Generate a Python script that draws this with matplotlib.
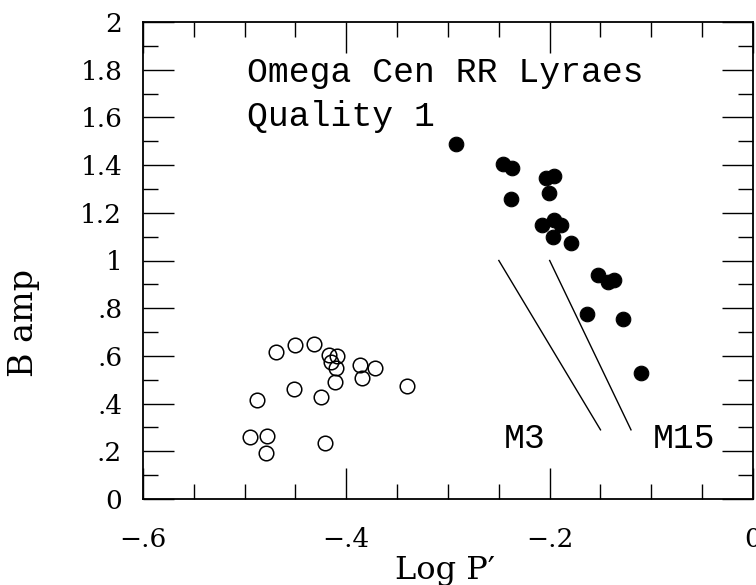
import numpy as np
import matplotlib
matplotlib.use('Agg')
import matplotlib.pyplot as plt
from matplotlib.ticker import MultipleLocator

#%% data

# quality 1 RR Lyraes with large amplitude (filled)
logp_filled = [-0.292, -0.246, -0.237, -0.238, -0.204, -0.196, -0.201, -0.208, -0.196,
               -0.189, -0.197, -0.179, -0.152, -0.143, -0.137, -0.163, -0.128, -0.110]
bamp_filled = [1.488, 1.403, 1.387, 1.258, 1.345, 1.354, 1.284, 1.149, 1.170,
               1.149, 1.100, 1.072, 0.939, 0.911, 0.918, 0.774, 0.753, 0.530]

# open circles
logp_open = [-0.469, -0.450, -0.432, -0.417, -0.409, -0.415, -0.410, -0.411, -0.387,
             -0.372, -0.385, -0.340, -0.451, -0.425, -0.488, -0.495, -0.478, -0.479, -0.421]
bamp_open = [0.618, 0.646, 0.650, 0.604, 0.598, 0.576, 0.548, 0.492, 0.562,
             0.551, 0.506, 0.474, 0.460, 0.429, 0.415, 0.261, 0.264, 0.191, 0.236]

# reference relations
m3_x = [-0.250, -0.150]
m3_y = [1.00, 0.29]
m15_x = [-0.200, -0.120]
m15_y = [1.00, 0.29]

xticks = [-0.6, -0.4, -0.2, 0.0]
xticklabels = ['\u2212.6', '\u2212.4', '\u2212.2', '0']
yticks = [0, 0.2, 0.4, 0.6, 0.8, 1.0, 1.2, 1.4, 1.6, 1.8, 2.0]
yticklabels = ['0', '.2', '.4', '.6', '.8', '1', '1.2', '1.4', '1.6', '1.8', '2']

#%% plot

fig = plt.figure(figsize=(7.56, 5.85), dpi=100)
ax = fig.add_axes([143/756, 1 - 499/585, (753-143)/756, (499-22)/585])

ax.plot(logp_filled, bamp_filled, 'o', color='black', markersize=10.5, markeredgewidth=0.8)
ax.plot(logp_open, bamp_open, 'o', mfc='none', mec='black', markersize=10.5, markeredgewidth=1.1)
ax.plot(m3_x, m3_y, color='black', lw=1.0)
ax.plot(m15_x, m15_y, color='black', lw=1.0)

ax.set_xlim(-0.6, 0.0)
ax.set_ylim(0, 2)

ax.set_xticks(xticks)
ax.set_xticklabels(xticklabels)
ax.set_yticks(yticks)
ax.set_yticklabels(yticklabels)
ax.xaxis.set_minor_locator(MultipleLocator(0.05))
ax.yaxis.set_minor_locator(MultipleLocator(0.1))

ax.tick_params(which='both', direction='in', top=True, right=True, width=1.0)
ax.tick_params(which='major', length=22)
ax.tick_params(which='minor', length=11)
ax.tick_params(axis='x', which='major', pad=20)
ax.tick_params(axis='y', which='major', pad=15)
for lab in ax.get_xticklabels() + ax.get_yticklabels():
    lab.set_fontfamily('DejaVu Serif')
    lab.set_fontsize(19)

for sp in ax.spines.values():
    sp.set_linewidth(1.3)

mono = 'Liberation Mono'
ax.text(-0.498, 1.75, 'Omega Cen RR Lyraes', fontfamily=mono, fontsize=25, va='baseline')
ax.text(-0.498, 1.565, 'Quality 1', fontfamily=mono, fontsize=25, va='baseline')
ax.text(-0.245, 0.215, 'M3', fontfamily=mono, fontsize=25, va='baseline')
ax.text(-0.099, 0.215, 'M15', fontfamily=mono, fontsize=25, va='baseline')

fig.text(445/756, 1 - 570/585, 'Log P\u2032', fontfamily='DejaVu Serif', fontsize=23,
         ha='center', va='center')
fig.text(24/756, 1 - 323/585, 'B amp', fontfamily='DejaVu Serif', fontsize=24,
         ha='center', va='center', rotation=90)

fig.savefig('out.png', dpi=100)
